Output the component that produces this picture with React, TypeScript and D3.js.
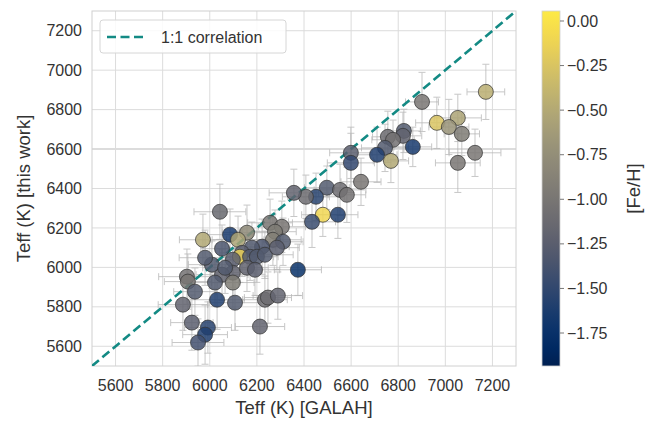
import React from "react";
import * as d3 from "d3";

// Teff from GALAH (x) and this work (y), [Fe/H] for colour
const teffGalah = [
  7172, 6901, 6964, 7053, 7015, 7070, 7126, 7053,
  6824, 6820, 6756, 6778, 6744, 6710, 6769, 6862,
  6599, 6599, 6642, 6497, 6553, 6582, 6451, 6408,
  6357, 6480, 6544, 6434,
  6043, 6256, 6306, 6277, 6268, 6311, 6158, 6086, 6120, 5971,
  6052, 6222, 6179, 6137, 6128, 6098, 6171, 6200, 6234, 6285,
  6374, 5903, 6098, 6052, 5907, 5937, 5886, 6031, 6022, 6098,
  6107, 6234, 6247, 6289, 5924, 5992, 5980, 5950, 6213,
  6009, 6065, 5980, 6158, 6192,
];
const teffThisWork = [
  6890, 6839, 6733, 6758, 6712, 6677, 6581, 6530,
  6692, 6667, 6662, 6647, 6606, 6571, 6540, 6611,
  6581, 6530, 6434, 6404, 6393, 6368, 6358, 6358,
  6378, 6267, 6267, 6231,
  6282, 6226, 6206, 6181, 6140, 6130, 6176, 6166, 6140, 6140,
  6095, 6105, 6100, 6074, 6054, 6039, 6054, 6054, 6064, 6100,
  5988, 5953, 5973, 5963, 5928, 5877, 5811, 5836, 5923, 5923,
  5821, 5836, 5847, 5857, 5720, 5695, 5659, 5619, 5700,
  6014, 5998, 6049, 5998, 5988,
];
const feH = [
  -0.45, -1.0, -0.25, -0.55, -0.7, -0.95, -1.0, -1.0,
  -1.3, -1.2, -1.1, -1.05, -1.3, -1.6, -0.5, -1.65,
  -1.25, -1.5, -1.0, -1.3, -1.1, -1.05, -1.55, -1.1,
  -1.2, -0.1, -1.6, -1.45,
  -1.15, -1.0, -1.0, -0.95, -0.9, -1.3, -0.8, -1.65, -0.55, -0.5,
  -1.35, -1.35, -1.3, -1.25, -0.15, -1.25, -1.3, -1.3, -1.3, -1.25,
  -1.75, -1.05, -1.2, -1.2, -1.0, -1.3, -1.2, -1.6, -1.3, -0.95,
  -1.3, -1.1, -1.1, -1.2, -1.25, -1.55, -1.6, -1.4, -1.2,
  -1.3, -1.3, -1.3, -1.2, -1.25,
];
const xErr = [
  80, 70, 90, 100, 85, 75, 110, 95,
  70, 80, 65, 90, 100, 85, 75, 80,
  90, 100, 85, 95, 110, 80, 120, 100,
  105, 90, 85, 100,
  110, 95, 100, 90, 120, 85, 105, 95, 110, 100,
  90, 115, 100, 95, 85, 110, 100, 90, 120, 95,
  100, 120, 95, 110, 100, 90, 105, 115, 100, 90,
  110, 95, 100, 105, 90, 100, 95, 110, 105,
  100, 95, 110, 90, 105,
];
const yErr = [
  140, 150, 130, 120, 140, 110, 120, 150,
  110, 120, 130, 100, 120, 140, 110, 100,
  130, 150, 120, 110, 130, 140, 120, 110,
  120, 110, 120, 130,
  140, 120, 130, 110, 130, 120, 140, 130, 120, 130,
  120, 140, 130, 120, 130, 140, 120, 130, 120, 110,
  130, 140, 120, 130, 140, 120, 130, 150, 120, 130,
  140, 120, 130, 120, 140, 130, 150, 120, 140,
  120, 130, 140, 120, 130,
];

const xTicks = [5600, 5800, 6000, 6200, 6400, 6600, 6800, 7000, 7200];
const yTicks = [5600, 5800, 6000, 6200, 6400, 6600, 6800, 7000, 7200];
const cbTicks = [0, -0.25, -0.5, -0.75, -1.0, -1.25, -1.5, -1.75];
const domainT = [5500, 7300];
const domainFe = [-1.935, 0.056];

const FONT = "'Liberation Sans', Arial, sans-serif";

export default function App() {
  const left = 92, right = 516, top = 11, bottom = 366;
  const x = d3.scaleLinear().domain(domainT).range([left, right]);
  const y = d3.scaleLinear().domain(domainT).range([bottom, top]);
  const cbX = 542, cbW = 18;
  const cy = d3.scaleLinear().domain(domainFe).range([bottom, top]);
  const cnorm = d3.scaleLinear().domain(domainFe).range([0, 1]).clamp(true);
  const color = (v: number) => d3.interpolateCividis(cnorm(v));

  const pts = teffGalah.map((g, i) => ({
    g, t: teffThisWork[i], fe: feH[i], ex: xErr[i], ey: yErr[i],
  }));
  const stops = d3.range(0, 1.0001, 0.05);
  const cap = 3.5;
  const line = d3.line<number>().x((d) => x(d)).y((d) => y(d));

  return (
    <svg width={660} height={422} style={{ position: "absolute", left: 0, top: 0, background: "#fff" }} fontFamily={FONT}>
      <defs>
        <linearGradient id="cb" x1="0" y1="1" x2="0" y2="0">
          {stops.map((s) => (
            <stop key={s} offset={s} stopColor={d3.interpolateCividis(s)} />
          ))}
        </linearGradient>
        <clipPath id="plot">
          <rect x={left} y={top} width={right - left} height={bottom - top} />
        </clipPath>
      </defs>
      {/* grid */}
      {xTicks.map((t) => (
        <line key={"gx" + t} x1={x(t)} x2={x(t)} y1={top} y2={bottom} stroke="#dcdcdc" strokeWidth={1} />
      ))}
      {yTicks.map((t) => (
        <line key={"gy" + t} x1={left} x2={right} y1={y(t)} y2={y(t)} stroke="#dcdcdc" strokeWidth={t === 6600 ? 2 : 1} />
      ))}
      <rect x={left} y={top} width={right - left} height={bottom - top} fill="none" stroke="#d0d0d0" strokeWidth={1} />
      <g clipPath="url(#plot)">
        {/* error bars */}
        {pts.map((p, i) => (
          <g key={"e" + i} stroke="#b5b5b5" strokeWidth={1} opacity={0.75}>
            <line x1={x(p.g - p.ex)} x2={x(p.g + p.ex)} y1={y(p.t)} y2={y(p.t)} />
            <line x1={x(p.g)} x2={x(p.g)} y1={y(p.t - p.ey)} y2={y(p.t + p.ey)} />
            <line x1={x(p.g - p.ex)} x2={x(p.g - p.ex)} y1={y(p.t) - cap} y2={y(p.t) + cap} />
            <line x1={x(p.g + p.ex)} x2={x(p.g + p.ex)} y1={y(p.t) - cap} y2={y(p.t) + cap} />
            <line x1={x(p.g) - cap} x2={x(p.g) + cap} y1={y(p.t - p.ey)} y2={y(p.t - p.ey)} />
            <line x1={x(p.g) - cap} x2={x(p.g) + cap} y1={y(p.t + p.ey)} y2={y(p.t + p.ey)} />
          </g>
        ))}
        {/* 1:1 line */}
        <path d={line(domainT) || ""} stroke="#138a84" strokeWidth={2.6} strokeDasharray="9 4.5" fill="none" />
        {/* points */}
        {pts.map((p, i) => (
          <circle key={"p" + i} cx={x(p.g)} cy={y(p.t)} r={7.5} fill={color(p.fe)} fillOpacity={0.85} stroke="#333" strokeOpacity={0.8} strokeWidth={0.9} />
        ))}
      </g>
      {/* ticks */}
      {xTicks.map((t) => (
        <text key={"tx" + t} x={x(t)} y={391} textAnchor="middle" fontSize={16} fill="#333">{t}</text>
      ))}
      {yTicks.map((t) => (
        <text key={"ty" + t} x={82} y={y(t)} dy="0.35em" textAnchor="end" fontSize={16} fill="#333">{t}</text>
      ))}
      <text x={(left + right) / 2} y={414} textAnchor="middle" fontSize={18.5} fill="#333">Teff (K) [GALAH]</text>
      <text transform={`translate(30,${(top + bottom) / 2}) rotate(-90)`} textAnchor="middle" fontSize={18.5} fill="#333">Teff (K) [this work]</text>
      {/* legend */}
      <rect x={100} y={20} width={186} height={33} rx={3} fill="#fff" fillOpacity={0.85} stroke="#d6d6d6" />
      <line x1={107} x2={147} y1={37} y2={37} stroke="#138a84" strokeWidth={2.6} strokeDasharray="9 4.5" />
      <text x={161} y={37} dy="0.35em" fontSize={16} fill="#333">1:1 correlation</text>
      {/* colorbar */}
      <rect x={cbX} y={top} width={cbW} height={bottom - top} fill="url(#cb)" stroke="#d0d0d0" strokeWidth={0.8} />
      {cbTicks.map((t) => (
        <g key={"cb" + t}>
          <line x1={cbX + cbW} x2={cbX + cbW + 4} y1={cy(t)} y2={cy(t)} stroke="#555" strokeWidth={0.8} />
          <text x={cbX + cbW + 7} y={cy(t)} dy="0.35em" fontSize={16} fill="#333">{t === 0 ? "0.00" : "\u2212" + Math.abs(t).toFixed(2)}</text>
        </g>
      ))}
      <text transform={`translate(640,${(top + bottom) / 2}) rotate(-90)`} textAnchor="middle" fontSize={18.5} fill="#333">[Fe/H]</text>
    </svg>
  );
}
